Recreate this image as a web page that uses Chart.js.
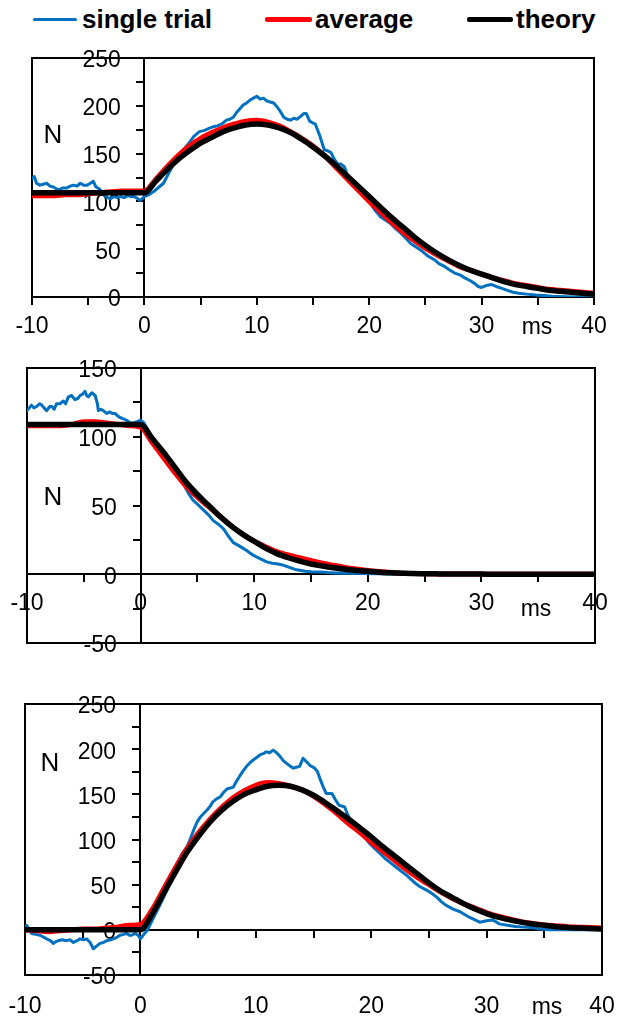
<!DOCTYPE html>
<html>
<head>
<meta charset="utf-8">
<title>N vs ms</title>
<script src="https://cdn.jsdelivr.net/npm/chart.js@4.4.1/dist/chart.umd.min.js"></script>
<style>
  body { margin: 0; background: #fff; }
  #page { position: relative; width: 617px; height: 1021px; overflow: hidden;
          font-family: "Liberation Sans", Arial, sans-serif; }
  canvas { position: absolute; left: 0; }
  .key { position: absolute; top: 6px; font-weight: bold; font-size: 26px; line-height: 1; color: #000; white-space: nowrap; }
  .swatch { position: absolute; }
</style>
</head>
<body>
<div id="page">
  <div id="legend"></div>
  <canvas id="topChart" width="617" height="345" style="top:0px"></canvas>
  <canvas id="midChart" width="617" height="340" style="top:345px"></canvas>
  <canvas id="botChart" width="617" height="336" style="top:685px"></canvas>
</div>
<script>
// series + axis ranges
const seriesNames = ["single trial", "average", "theory"];
const seriesColors = ["#0070C0", "#FF0000", "#000000"];
const msRange = [-10, 40];
const topRange = [0, 250];
const midRange = [-50, 150];
const botRange = [-50, 250];

// 1 ms grid used by average and theory
const msGrid = [-10, -9, -8, -7, -6, -5, -4, -3, -2, -1, 0,
  1, 2, 3, 4, 5, 6, 7, 8, 9, 10,
  11, 12, 13, 14, 15, 16, 17, 18, 19, 20,
  21, 22, 23, 24, 25, 26, 27, 28, 29, 30,
  31, 32, 33, 34, 35, 36, 37, 38, 39, 40];

// ---- top panel ----
const theoryTop = [109, 109, 109, 109, 109, 109, 109, 109, 109, 109, 109,
  121, 133, 144, 153, 161, 167, 173, 177, 180, 181,
  180, 177, 172, 165, 157, 148, 138, 127, 116, 105,
  94, 83, 73, 63, 54, 46, 39, 33, 28, 24,
  20, 16, 13, 11, 9, 7, 6, 5, 4, 3];
const averageTop = [106, 106, 106, 107, 107, 108, 109, 110, 111, 111, 111,
  123, 136, 148, 158, 166, 172, 177, 181, 184, 185,
  183, 179, 173, 166, 158, 148, 136, 124, 112, 100,
  89, 78, 68, 59, 51, 44, 38, 32, 28, 24,
  20, 17, 14, 12, 10, 8, 7, 6, 5, 4];
const trialTopT = [
  -10, -9.8, -9.6, -9.3, -9.0, -8.7, -8.4, -8.1, -7.8, -7.6,
  -7.3, -6.9, -6.6, -6.3, -6.0, -5.7, -5.4, -5.1, -4.8, -4.55,
  -4.3, -4.0, -3.6, -3.3, -3.0, -2.7, -2.4, -2.1, -1.8, -1.5,
  -1.2, -0.9, -0.6, -0.4, -0.2, 0, 0.4, 0.8, 1.2, 1.7,
  2.1, 2.6, 3.0, 3.5, 3.9, 4.4, 4.9, 5.3, 5.7, 6.1,
  6.5, 6.9, 7.3, 7.6, 7.9, 8.2, 8.5, 8.8, 9.1, 9.4,
  9.7, 10.0, 10.3, 10.6, 10.9, 11.2, 11.5, 11.8, 12.1, 12.4,
  12.7, 13.0, 13.3, 13.6, 13.9, 14.2, 14.4, 14.7, 15.0, 15.2,
  15.6, 16.0, 16.3, 16.6, 16.9, 17.2, 17.5, 17.8, 18.1, 18.4,
  18.8, 19.2, 19.6, 20.1, 20.5, 21.0, 21.5, 21.9, 22.4, 22.8,
  23.3, 23.7, 24.2, 24.6, 25.2, 25.8, 26.2, 26.7, 27.2, 27.6,
  28.1, 28.5, 29.0, 29.4, 29.7, 30.0, 30.4, 30.9, 31.3, 31.8,
  32.3, 32.8, 33.3, 34.0, 34.8, 35.5, 36.3, 37.5, 38.5, 40];
const trialTopN = [
  124, 126, 119, 117, 118, 119, 116, 115, 113, 112,
  114, 114, 116, 117, 116, 119, 117, 117, 119, 121,
  115, 113, 108, 104, 103, 105, 104, 105, 104, 106,
  105, 105, 103, 101, 103, 105, 107, 110, 114, 119,
  128, 139, 147, 154, 160, 168, 173, 174, 176, 178,
  179, 181, 185, 186, 188, 193, 197, 201, 203, 206,
  208, 210, 207, 208, 205, 204, 203, 199, 194, 188,
  186, 185, 187, 186, 189, 192, 192, 184, 182, 181,
  169, 154, 153, 151, 144, 139, 139, 136, 126, 121,
  117, 112, 104, 98, 91, 84, 80, 77, 71, 67,
  61, 56, 52, 49, 43, 39, 35, 32, 28, 25,
  23, 20, 17, 14, 11, 10, 12, 13, 11, 9,
  7, 5, 4, 3, 2, 1.5, 0.7, 0.3, 0, 0];

// ---- middle panel ----
const theoryMid = [109, 109, 109, 109, 109, 109, 109, 109, 109, 109, 109,
  99, 89, 78, 67, 58, 50, 42, 35, 29, 24,
  19, 15, 12, 9.5, 7.5, 6, 4.7, 3.6, 2.8, 2.1,
  1.5, 1.1, 0.8, 0.5, 0.4, 0.3, 0.2, 0.2, 0.1, 0.1,
  0, 0, 0, 0, 0, 0, 0, 0, 0, 0];
const averageMid = [108, 108, 108, 108, 109, 111, 111, 110, 109, 108, 107,
  96, 85, 74, 64, 56, 49, 42, 35, 29, 24,
  20, 16.5, 14, 12, 10, 8, 6.5, 5, 3.8, 2.8,
  2, 1.3, 0.8, 0.5, 0.3, 0.2, 0.2, 0.1, 0.1, 0.1,
  0, 0, 0, 0, 0, 0, 0, 0, 0, 0];
const trialMidT = [
  -10, -9.8, -9.6, -9.4, -9.15, -8.9, -8.7, -8.5, -8.27, -8.0,
  -7.83, -7.6, -7.4, -7.1, -6.8, -6.6, -6.36, -6.07, -5.78, -5.5,
  -5.34, -5.1, -4.9, -4.75, -4.6, -4.3, -4.0, -3.8, -3.72, -3.5,
  -3.28, -3.0, -2.7, -2.5, -2.25, -2.0, -1.81, -1.5, -1.23, -0.9,
  -0.64, -0.3, 0, 0.3, 0.7, 1.1, 1.5, 2.0, 2.5, 3.0,
  3.4, 3.76, 4.2, 4.6, 5.0, 5.5, 6.0, 6.4, 6.9, 7.3,
  7.7, 8.16, 8.6, 9.0, 9.3, 9.7, 10.2, 10.6, 11.1, 11.6,
  12.1, 12.6, 13.1, 13.6, 14.0, 14.5, 15.0, 15.8, 16.5, 17.5,
  18.5, 19.5, 21, 22.5, 40];
const trialMidN = [
  119, 121, 123, 121, 122, 124, 123, 121, 119, 122,
  122, 120, 124, 124, 126, 124, 129, 130, 127, 128,
  130, 131, 133, 130, 129, 132, 130, 124, 119, 120,
  119, 117, 118, 117, 117, 115, 114, 113, 112, 110,
  110, 111, 112, 110, 104, 98, 93, 87, 81, 75,
  70, 66, 59, 54, 51, 47, 43, 39, 36, 33,
  28, 23, 21, 19, 17.5, 15, 12.6, 11, 9, 8,
  7.5, 6.5, 5, 3.5, 2.9, 2.2, 1.8, 1.7, 1.2, 0.8,
  0.7, 0.5, 0.3, 0, 0];

// ---- bottom panel ----
const theoryBot = [0, 0, 0, 0, 0, 0, 0, 0, 0, 0, 0,
  17, 40, 63, 85, 103, 119, 132, 142, 150, 155,
  159, 160, 159, 155, 149, 141, 132, 123, 113, 103,
  92, 82, 72, 62, 52, 43, 36, 29, 23, 18,
  14, 11, 8.5, 6.5, 5, 3.5, 2.5, 2, 1.5, 1];
const averageBot = [0, -1, -2, -1, 0, 1, 1, 2, 3, 5, 6,
  22, 45, 68, 89, 107, 122, 135, 146, 154, 160,
  163, 162, 159, 155, 148, 139, 129, 118, 108, 97,
  87, 77, 67, 58, 50, 42, 35, 29, 24, 19,
  15, 12, 9, 7, 5.5, 4.5, 3.5, 3, 2.5, 2];
const trialBotT = [
  -10, -9.86, -9.6, -9.42, -9.1, -8.7, -8.4, -8.12, -7.8, -7.55,
  -7.3, -7.11, -6.8, -6.39, -6.1, -5.8, -5.5, -5.24, -4.95, -4.66,
  -4.35, -4.08, -3.8, -3.5, -3.2, -2.92, -2.6, -2.35, -2.0, -1.77,
  -1.45, -1.19, -0.95, -0.76, -0.47, -0.2, 0, 0.3, 0.58, 1.0,
  1.44, 1.9, 2.3, 2.75, 3.17, 3.6, 4.04, 4.3, 4.6, 4.9,
  5.2, 5.5, 5.8, 6.05, 6.3, 6.6, 6.9, 7.2, 7.5, 7.8,
  8.05, 8.3, 8.6, 8.9, 9.2, 9.5, 9.78, 10.1, 10.4, 10.65,
  10.9, 11.2, 11.5, 11.8, 12.1, 12.4, 12.7, 13.0, 13.25, 13.5,
  13.8, 14.1, 14.4, 14.7, 15.1, 15.35, 15.6, 15.85, 16.1, 16.6,
  16.9, 17.2, 17.7, 17.95, 18.2, 18.6, 19.0, 19.4, 19.9, 20.3,
  20.8, 21.2, 21.6, 22.0, 22.5, 23.1, 23.7, 24.2, 24.8, 25.3,
  25.7, 26.1, 26.5, 27.1, 27.7, 28.1, 28.5, 29.0, 29.4, 30.0,
  30.5, 30.8, 31.1, 31.8, 32.5, 33.2, 34.0, 34.7, 35.4, 40];
const trialBotN = [
  3, 5, 0, -4, -5, -6, -8, -10, -12, -15,
  -13, -12, -11, -12, -11, -14, -12, -10, -11, -10,
  -14, -21, -18, -15, -14, -12, -11, -10, -8, -6,
  -5, -4, -6, -6, -4, -6, -10, -5, -1, 10,
  21, 33, 44, 58, 73, 84, 92, 100, 110, 119,
  125, 129, 133, 137, 142, 145, 147, 152, 156, 157,
  158, 164, 170, 176, 181, 185, 188, 191, 194, 195,
  197, 196, 199, 196, 192, 187, 184, 181, 179, 180,
  181, 190, 186, 182, 179, 175, 166, 158, 151, 151,
  144, 138, 136, 128, 121, 116, 110, 103, 95, 90,
  84, 79, 75, 71, 66, 60, 53, 48, 44, 40,
  36, 31, 27, 23, 20, 17, 14, 11, 8.5, 10,
  11, 9, 6.6, 5, 3.7, 3, 2.2, 1, 0, 0];

const fontFamily = '"Liberation Sans", Arial, sans-serif';
const tickFont = { family: fontFamily, size: 23 };
const lineWidths = [3, 5, 5.5];

// html legend on top
const legend = document.getElementById("legend");
const swatchLeft = [33, 265, 467];
const swatchWidth = [44, 47, 46];
const textLeft = [82, 315, 516];
seriesNames.forEach(function (name, i) {
  const sw = document.createElement("div");
  sw.className = "swatch";
  const h = i === 0 ? 3 : 5;
  sw.style.cssText = "left:" + swatchLeft[i] + "px;width:" + swatchWidth[i] + "px;top:" + (19 - h / 2) + "px;height:" + h + "px;background:" + seriesColors[i] + ";border-radius:2px";
  legend.appendChild(sw);
  const tx = document.createElement("div");
  tx.className = "key";
  tx.style.left = textLeft[i] + "px";
  tx.textContent = name;
  legend.appendChild(tx);
});

function pairs(ts, ns) {
  return ts.map(function (t, i) { return { x: t, y: ns[i] }; });
}

// scales take no room in the layout, padding alone sets the plot box
function flatten(scale) {
  if (scale.isHorizontal()) scale.height = 0; else scale.width = 0;
  scale.paddingLeft = 0; scale.paddingRight = 0;
  scale.paddingTop = 0; scale.paddingBottom = 0;
}

// bottom label strip keeps a fixed height (labels are clipped to it)
function bottomStrip(scale) {
  scale.height = 46;
  scale.paddingLeft = 0; scale.paddingRight = 0;
  scale.paddingTop = 0; scale.paddingBottom = 0;
}

// plot frame goes under the scales so tick labels stay readable
const frame = {
  id: "frame",
  beforeDraw(chart) {
    const a = chart.chartArea, ctx = chart.ctx;
    ctx.save();
    ctx.strokeStyle = "#000";
    ctx.lineWidth = 2;
    ctx.strokeRect(a.left, a.top, a.right - a.left, a.bottom - a.top);
    ctx.restore();
  }
};

const notes = {
  id: "notes",
  afterDraw(chart, args, opts) {
    const ctx = chart.ctx;
    ctx.save();
    ctx.fillStyle = "#000";
    ctx.textAlign = "center";
    ctx.textBaseline = "middle";
    (opts.items || []).forEach(function (n) {
      ctx.font = n.size + "px " + fontFamily;
      ctx.fillText(n.text, n.x, n.y);
    });
    ctx.restore();
  }
};

function makePanel(id, yRange, trial, average, theory, padding, labelsAtBottom, noteItems) {
  const data = [trial, pairs(msGrid, average), pairs(msGrid, theory)];
  const datasets = data.map(function (d, i) {
    return {
      label: seriesNames[i],
      data: d,
      xAxisID: "x",
      yAxisID: "y",
      borderColor: seriesColors[i],
      backgroundColor: seriesColors[i],
      borderWidth: lineWidths[i],
      pointRadius: 0,
      cubicInterpolationMode: i === 0 ? "default" : "monotone",
      tension: 0,
      order: 2 - i,
      borderJoinStyle: "round",
      borderCapStyle: "round"
    };
  });

  const scales = {
    x: {
      type: "linear", min: msRange[0], max: msRange[1], position: { y: 0 },
      border: { color: "#000", width: 2 },
      grid: { drawOnChartArea: false, color: "#000", lineWidth: 2, tickLength: 7 },
      ticks: {
        stepSize: 5, autoSkip: false, maxRotation: 0, display: !labelsAtBottom,
        padding: 9, color: "#000", font: tickFont,
        callback: function (v) { return v % 10 === 0 ? v : ""; }
      },
      afterFit: flatten
    },
    y: {
      type: "linear", min: yRange[0], max: yRange[1], position: { x: 0 },
      border: { color: "#000", width: 2 },
      grid: { drawOnChartArea: false, color: "#000", lineWidth: 2, tickLength: 7 },
      ticks: { stepSize: 25, display: false },
      afterFit: flatten
    },
    yl: {
      type: "linear", min: yRange[0], max: yRange[1], position: { x: -2.1 },
      border: { display: false },
      grid: { display: false, drawTicks: false },
      ticks: { stepSize: 50, autoSkip: false, labelOffset: 3, color: "#000", font: tickFont },
      afterFit: flatten
    }
  };
  if (labelsAtBottom) {
    scales.xb = {
      type: "linear", min: msRange[0], max: msRange[1], position: "bottom",
      border: { display: false },
      grid: { display: false, drawTicks: false },
      ticks: { stepSize: 10, autoSkip: false, maxRotation: 0, padding: 18, color: "#000", font: tickFont },
      afterFit: bottomStrip
    };
  }

  return new Chart(document.getElementById(id), {
    type: "line",
    data: { datasets: datasets },
    options: {
      responsive: false,
      animation: false,
      devicePixelRatio: 1,
      parsing: false,
      layout: { padding: padding, autoPadding: false },
      scales: scales,
      plugins: {
        legend: { display: false },
        tooltip: { enabled: false },
        notes: { items: noteItems }
      }
    },
    plugins: [frame, notes]
  });
}

makePanel("topChart", topRange, pairs(trialTopT, trialTopN), averageTop, theoryTop,
  { left: 32, top: 58, right: 23, bottom: 48 }, false,
  [{ text: "N", x: 53, y: 136, size: 26 }, { text: "ms", x: 537, y: 328, size: 23 }]);

makePanel("midChart", midRange, pairs(trialMidT, trialMidN), averageMid, theoryMid,
  { left: 27, top: 23, right: 22, bottom: 42 }, false,
  [{ text: "N", x: 53, y: 153, size: 26 }, { text: "ms", x: 536, y: 265, size: 23 }]);

makePanel("botChart", botRange, pairs(trialBotT, trialBotN), averageBot, theoryBot,
  { left: 25, top: 19, right: 15, bottom: 0 }, true,
  [{ text: "N", x: 50, y: 79, size: 26 }, { text: "ms", x: 547, y: 323, size: 23 }]);
</script>
</body>
</html>
